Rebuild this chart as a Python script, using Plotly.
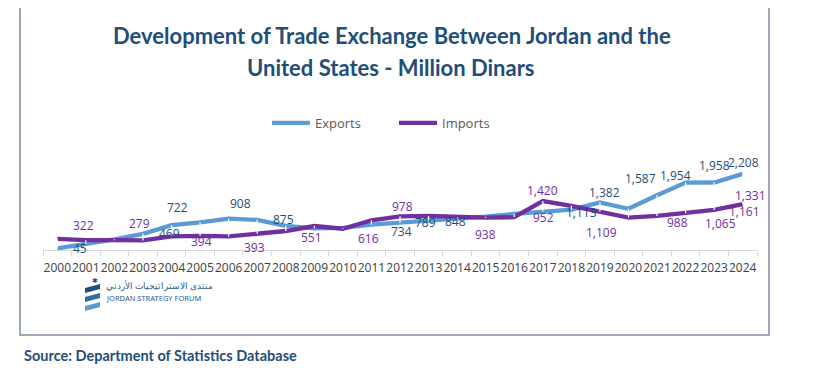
import plotly.graph_objects as go

# ---------------- data ----------------
years = [str(y) for y in range(2000, 2025)]
exports = [45, 175, 310, 469, 722, 800, 908, 875, 700, 630, 640, 734, 789, 848,
           880, 965, 1045, 1113, 1170, 1382, 1195, 1587, 1954, 1958, 2208]
imports = [322, 285, 285, 279, 394, 410, 393, 470, 551, 695, 616, 862, 978, 988,
           958, 938, 952, 1420, 1280, 1109, 940, 988, 1065, 1161, 1331]

# points that carry a visible data label -> label offset (px) from the point (style only)
exp_label_shift = {"2000": (23, 0), "2003": (27, 0), "2004": (6, 18), "2006": (12, 15),
                   "2007": (26, 0), "2011": (30, -7), "2012": (25, 0), "2013": (27, -1),
                   "2017": (39, -1), "2019": (5, 10), "2021": (-17, 17), "2022": (-10, 7),
                   "2023": (0, 17), "2024": (1, 11)}
imp_label_shift = {"2000": (26, 13), "2003": (-3, 17), "2004": (30, -5), "2006": (26, -11),
                   "2008": (26, -6), "2010": (26, -10), "2012": (2, 10), "2015": (0, -17),
                   "2016": (29, 0), "2017": (0, 11), "2019": (2, -21), "2021": (20, -7),
                   "2022": (35, -10), "2023": (30, -2), "2024": (8, 9)}

BLUE = "#5B9BD5"
PURPLE = "#7030A0"
NAVY = "#1F4E79"
FONT = "Open Sans"

fig = go.Figure()

fig.add_trace(go.Scatter(x=years, y=exports, mode="lines", name="Exports",
                         line=dict(color=BLUE, width=4.3), hoverinfo="skip"))
fig.add_trace(go.Scatter(x=years, y=imports, mode="lines", name="Imports",
                         line=dict(color=PURPLE, width=4.3), hoverinfo="skip"))

# high-low lines (white) between the two series
hl_x, hl_y = [], []
for yr, e, i in zip(years, exports, imports):
    hl_x += [yr, yr, None]
    hl_y += [min(e, i), max(e, i), None]
fig.add_trace(go.Scatter(x=hl_x, y=hl_y, mode="lines", showlegend=False,
                         line=dict(color="white", width=1.2), hoverinfo="skip"))

# data labels, anchored on the data points (category index on the x axis)
for values, shifts, color in [(exports, exp_label_shift, NAVY),
                              (imports, imp_label_shift, PURPLE)]:
    for idx, (yr, v) in enumerate(zip(years, values)):
        if yr in shifts:
            dx, dy = shifts[yr]
            fig.add_annotation(x=idx, y=v, xref="x", yref="y", text=f"{v:,}",
                               showarrow=False, xshift=dx, yshift=dy,
                               xanchor="center", yanchor="middle",
                               font=dict(family=FONT, size=12, color=color))

# ---------------- layout ----------------
# page body has an 8px margin; figure is sized to fit the 828x372 window
OFF = 8
W, H = 828 - OFF, 372 - OFF
PL, PR, PT, PB = 43, 757, 150, 250          # plot area in window pixels
pw, ph = PR - PL, PB - PT


def px(xp):
    return (xp - PL) / pw


def py(yp):
    return (PB - yp) / ph


fig.update_layout(
    width=W, height=H,
    margin=dict(l=PL - OFF, r=W - (PR - OFF), t=PT - OFF, b=H - (PB - OFF), pad=0,
                autoexpand=False),
    paper_bgcolor="white", plot_bgcolor="white",
    font=dict(family=FONT, color="#404040"),
    showlegend=True,
    legend=dict(orientation="h", x=px(267), xanchor="left", y=py(123), yanchor="middle",
                font=dict(family=FONT, size=13, color="#595959"),
                bgcolor="rgba(0,0,0,0)", entrywidth=74, entrywidthmode="pixels",
                itemwidth=38),
    xaxis=dict(type="category", range=[-0.5, len(years) - 0.5],
               tickson="boundaries", ticks="outside", ticklen=5,
               tickcolor="#d9d9d9", showline=True, linecolor="#d9d9d9", linewidth=1,
               showgrid=False, tickangle=0, automargin=False, ticklabelstandoff=7,
               tickfont=dict(family=FONT, size=12, color="#404040"),
               fixedrange=True),
    yaxis=dict(visible=False, range=[0, 2900], fixedrange=True),
)

# frame
fig.add_shape(type="rect", xref="paper", yref="paper",
              x0=px(20), x1=px(769), y0=py(335), y1=py(4),
              line=dict(color="#9DA8BA", width=2), fillcolor="rgba(0,0,0,0)", layer="below")

# title
fig.add_annotation(xref="paper", yref="paper", x=px(392), y=py(35), showarrow=False,
                   text="<b>Development of Trade Exchange Between Jordan and the</b>",
                   font=dict(family="Lato", size=22, color=NAVY), xanchor="center", yanchor="middle")
fig.add_annotation(xref="paper", yref="paper", x=px(391), y=py(67), showarrow=False,
                   text="<b>United States - Million Dinars</b>",
                   font=dict(family="Lato", size=22, color=NAVY), xanchor="center", yanchor="middle")

# logo
fig.add_annotation(xref="paper", yref="paper", x=px(95), y=py(280), showarrow=False,
                   text="✱", font=dict(size=6.5, color=NAVY), xanchor="center", yanchor="middle")
for k, col in enumerate(["#1F4E79", "#2E6DA4", "#5B9BD5"]):
    y0 = 284 + k * 9
    path = (f"M {px(85)},{py(y0+4)} L {px(100)},{py(y0)} L {px(100)},{py(y0+5)} "
            f"L {px(85)},{py(y0+9)} Z")
    fig.add_shape(type="path", xref="paper", yref="paper", path=path,
                  fillcolor=col, line=dict(width=0))
fig.add_annotation(xref="paper", yref="paper", x=px(104), y=py(286), showarrow=False,
                   text="منتدى الاستراتيجيات الأردني",
                   font=dict(family="Noto Sans", size=8.5, color="#2E5C8A"),
                   xanchor="left", yanchor="middle")
fig.add_annotation(xref="paper", yref="paper", x=px(104), y=py(298), showarrow=False,
                   text="JORDAN STRATEGY FORUM",
                   font=dict(family="Noto Sans", size=7.5, color="#2E5C8A"),
                   xanchor="left", yanchor="middle")

# source
fig.add_annotation(xref="paper", yref="paper", x=px(22), y=py(355), showarrow=False,
                   text="<b>Source: Department of Statistics Database</b>",
                   font=dict(family="Lato", size=14.5, color=NAVY),
                   xanchor="left", yanchor="middle")

fig.write_html("out.html")
